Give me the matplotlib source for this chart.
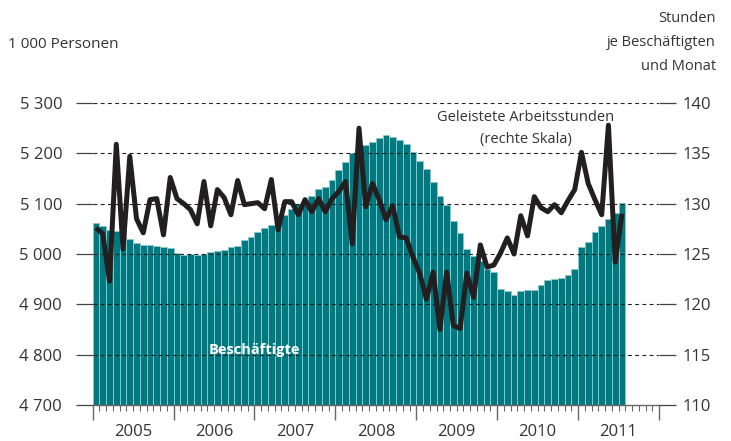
import numpy as np
import matplotlib
matplotlib.use('Agg')
import matplotlib.pyplot as plt

plt.rcParams['font.family'] = ['Open Sans', 'DejaVu Sans']

years = ['2005', '2006', '2007', '2008', '2009', '2010', '2011']

# Beschäftigte, 1 000 Personen (monatlich, Jan 2005 - Jul 2011)
beschaeftigte = [
    5062, 5056, 5048, 5045, 5045, 5030, 5021, 5018, 5017, 5016, 5013, 5011,
    5001, 4999, 5000, 4999, 5000, 5003, 5005, 5008, 5014, 5016, 5027, 5034,
    5043, 5051, 5058, 5068, 5078, 5090, 5099, 5103, 5115, 5129, 5134, 5147,
    5166, 5182, 5200, 5208, 5216, 5223, 5231, 5236, 5233, 5227, 5218, 5203,
    5185, 5168, 5144, 5115, 5097, 5066, 5041, 5010, 4997, 4986, 4971, 4964,
    4930, 4927, 4918, 4927, 4928, 4928, 4938, 4948, 4950, 4953, 4959, 4970,
    5013, 5023, 5043, 5056, 5070, 5081, 5101,
]

# Geleistete Arbeitsstunden je Beschäftigten und Monat
stunden = [
    127.6, 127.0, 122.3, 135.9, 125.5, 134.7, 128.5, 127.1, 130.4, 130.5, 126.9, 132.6,
    130.5, 130.0, 129.4, 128.0, 132.2, 127.8, 131.4, 130.6, 128.9, 132.3, 129.9, 130.0,
    130.1, 129.5, 132.4, 127.4, 130.2, 130.2, 128.9, 130.4, 129.2, 130.5, 129.2, 130.5,
    131.2, 132.2, 126.0, 137.5, 129.7, 132.0, 130.4, 128.4, 129.8, 126.7, 126.6, 124.7,
    123.1, 120.5, 123.2, 117.5, 123.2, 117.9, 117.6, 123.1, 120.7, 125.9, 123.7, 123.9,
    125.1, 126.6, 125.0, 128.8, 126.8, 130.7, 129.6, 129.2, 129.9, 129.1, 130.3, 131.4,
    135.1, 132.0, 130.4, 128.9, 137.8, 124.2, 129.0,
]

left_ticks = [4700, 4800, 4900, 5000, 5100, 5200, 5300]
right_ticks = [110, 115, 120, 125, 130, 135, 140]

W, H = 731, 441
fig = plt.figure(figsize=(W / 100, H / 100), dpi=100)
ax = fig.add_axes([92.7 / W, 1 - 405 / H, (659 - 92.7) / W, (405 - 103) / H])

txt = '#333333'
x = np.arange(len(beschaeftigte)) + 0.5
ax.bar(x, beschaeftigte, width=1.0, color='#007a80', edgecolor='#8cc6c8',
       linewidth=0.7, zorder=1)

ax.set_xlim(0, 84)
ax.set_ylim(4700, 5300)
ax.set_yticks(left_ticks)
ax.set_yticklabels([f'{v:,}'.replace(',', ' ') for v in left_ticks])

ax.set_axisbelow(False)
for v in left_ticks[1:]:
    ax.axhline(v, color='#222222', lw=0.8, ls=(0, (3.5, 3)), zorder=2)

for s in ['left', 'right', 'top']:
    ax.spines[s].set_visible(False)
ax.spines['bottom'].set_color('#666666')
ax.spines['bottom'].set_linewidth(1.0)
ax.spines['bottom'].set_zorder(3)

ax.tick_params(axis='y', length=12, width=0.9, color='#444444', pad=10,
               labelsize=12, labelcolor=txt)
ax.set_xticks(np.arange(0, 85, 12))
ax.set_xticklabels([])
ax.set_xticks(np.arange(0, 85, 1), minor=True)
ax.tick_params(axis='x', which='major', length=11, width=1.0, color='#666666')
ax.tick_params(axis='x', which='minor', length=4.5, width=0.8, color='#666666')
for i, yr in enumerate(years):
    ax.text(6 + 12 * i, -0.089, yr, transform=ax.get_xaxis_transform(),
            ha='center', va='center', fontsize=12, color=txt)

ax2 = ax.twinx()
ax2.plot(x, stunden, color='#231f20', lw=3.6, solid_joinstyle='round',
         solid_capstyle='butt', zorder=5)
ax2.set_ylim(110, 140)
ax2.set_yticks(right_ticks)
for s in ['left', 'right', 'top', 'bottom']:
    ax2.spines[s].set_visible(False)
ax2.tick_params(axis='y', length=12, width=0.9, color='#444444', pad=5,
                labelsize=12, labelcolor=txt)

fig.text(8 / W, 1 - 45 / H, '1 000 Personen', ha='left', va='center',
         fontsize=11, color=txt)
fig.text(716 / W, 1 - 18 / H, 'Stunden', ha='right', va='center',
         fontsize=10.5, color=txt)
fig.text(716 / W, 1 - 43 / H, 'je Beschäftigten', ha='right', va='center',
         fontsize=10.5, color=txt)
fig.text(716 / W, 1 - 67 / H, 'und Monat', ha='right', va='center',
         fontsize=10.5, color=txt)
fig.text(526 / W, 1 - 117 / H, 'Geleistete Arbeitsstunden', ha='center',
         va='center', fontsize=10.5, color=txt)
fig.text(526 / W, 1 - 140 / H, '(rechte Skala)', ha='center', va='center',
         fontsize=10.5, color=txt)
fig.text(254 / W, 1 - 350 / H, 'Beschäftigte', ha='center', va='center',
         fontsize=10.5, fontweight='bold', color='white')

fig.savefig('out.png', dpi=100)
